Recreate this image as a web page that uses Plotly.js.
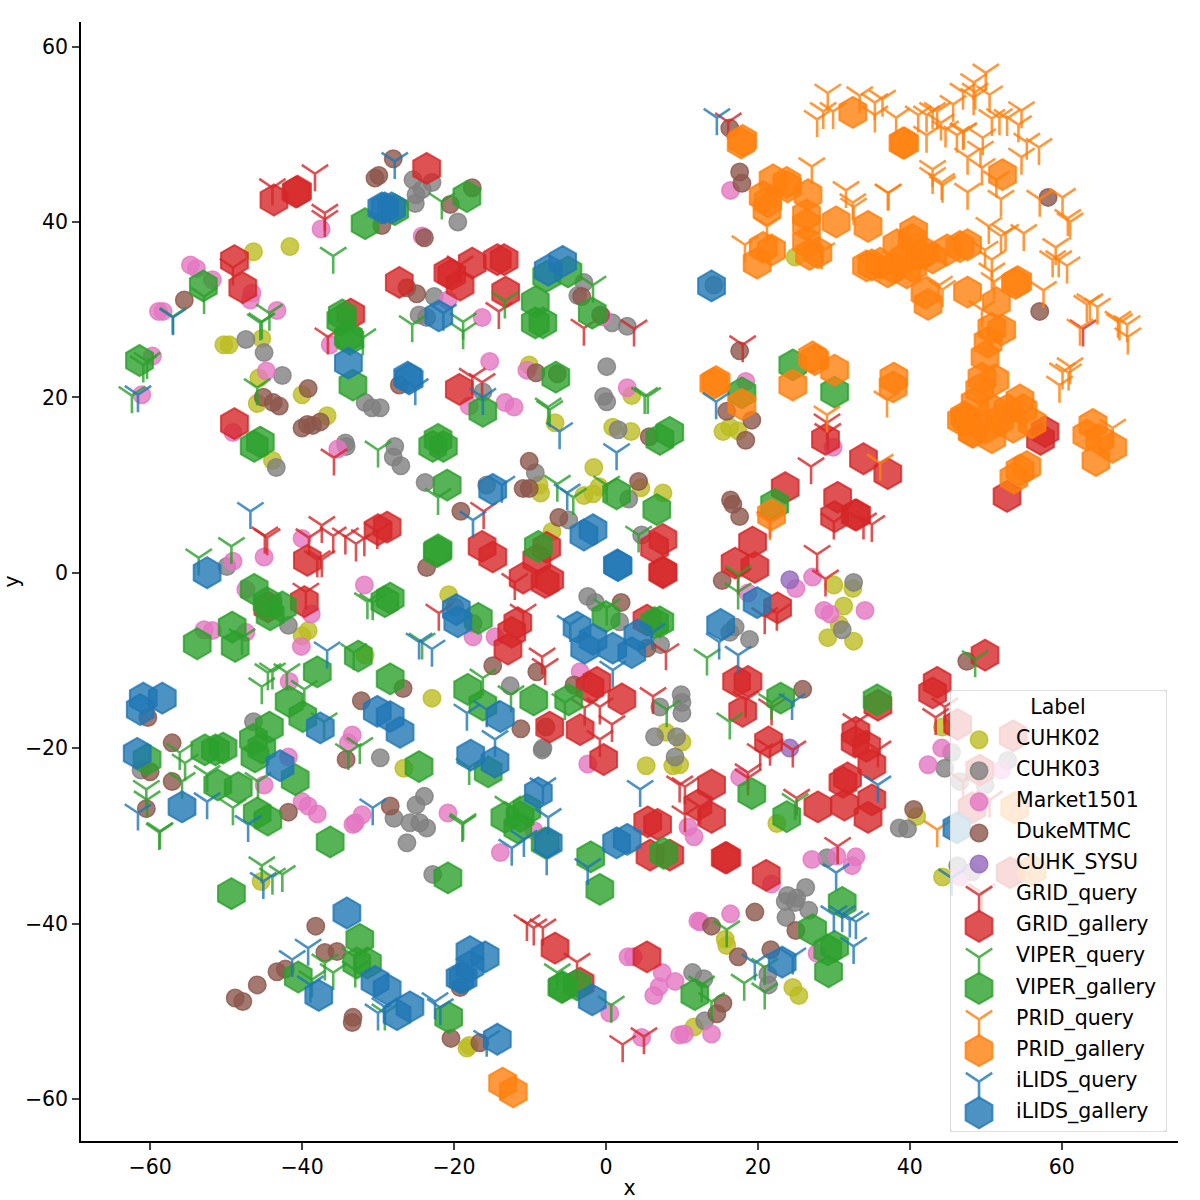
<!DOCTYPE html>
<html>
<head>
<meta charset="utf-8">
<script src="https://cdn.plot.ly/plotly-3.0.1.min.js"></script>
<style>
  html, body { margin: 0; padding: 0; background: white; }
  #chart { width: 1200px; height: 1200px; }
</style>
</head>
<body>
<div id="chart"></div>
<script>
// t-SNE embedding values, [x, y]
const cuhk02 = [[-46.4,36.6],[-41.6,37.2],[-50.3,26.0],[-49.6,26.0],[-45.3,26.7],[-45.7,22.2],[-45.9,19.3],[-40.0,20.3],[-36.7,17.9],[-10.1,23.7],[3.4,20.2],[-6.7,17.1],[0.9,16.6],[3.3,16.1],[-43.9,12.8],[-40.0,-7.2],[-39.2,-6.6],[-31.7,-9.4],[-1.6,12.0],[-8.8,10.0],[-8.6,9.1],[-2.9,8.8],[-1.7,9.0],[-0.9,9.8],[4.6,9.7],[7.5,9.1],[-20.7,-2.5],[-7.1,4.7],[-22.9,-14.3],[7.9,-18.2],[15.4,16.1],[16.3,16.6],[17.4,16.2],[30.0,-1.4],[32.5,-1.8],[31.3,-3.8],[30.7,-5.9],[29.2,-7.4],[32.6,-7.8],[24.9,36.0],[-45.4,-35.2],[-26.6,-22.3],[5.3,-22.0],[8.8,-22.0],[-18.3,-54.2],[-18.0,-53.9],[15.7,-41.8],[15.9,-42.5],[44.3,-17.6],[10.0,-19.3],[9.7,-21.9],[22.5,-28.6],[40.9,-27.8],[44.3,-34.7],[24.6,-47.3],[25.4,-48.2],[11.6,-51.8]];
const cuhk03 = [[-47.4,26.6],[-45.0,25.1],[-42.6,22.5],[-31.7,19.4],[-30.8,18.8],[-25.4,44.8],[-25.0,43.1],[-25.1,42.1],[-22.9,44.5],[-24.2,43.7],[-19.5,40.0],[-2.9,33.1],[-3.7,31.6],[0.8,28.5],[2.8,28.1],[-24.6,29.4],[-22.6,31.5],[-23.6,29.1],[-16.2,20.6],[0.1,23.5],[-0.3,20.1],[0.1,19.5],[1.6,16.3],[-29.7,18.8],[-34.3,14.8],[-43.4,12.0],[-34.2,14.4],[-49.9,0.7],[-41.8,-6.0],[-46.4,-17.0],[-61.2,-22.5],[-27.8,14.4],[-28.0,13.2],[-27.0,12.2],[-23.8,10.3],[-15.7,10.0],[-9.3,11.4],[-4.9,6.0],[3.0,8.4],[4.7,4.3],[-2.4,-2.7],[-1.4,-3.4],[1.8,-5.6],[7.2,-8.2],[-12.6,-12.9],[-17.5,-5.8],[-19.9,-3.9],[7.1,-15.3],[6.4,-18.7],[9.3,-18.7],[9.9,-13.9],[10.0,-14.8],[10.0,-16.0],[-8.3,-20.0],[-8.4,-20.2],[9.1,-21.0],[-25.0,-26.5],[-23.9,-25.5],[-27.9,-28.0],[-25.8,-28.5],[-24.5,-28.5],[-23.6,-29.1],[-26.2,-30.8],[-22.8,-34.4],[-29.7,-21.1],[32.6,-1.1],[31.1,-6.5],[17.0,-6.2],[16.3,-6.8],[18.9,-7.6],[29.1,-32.5],[38.6,-29.1],[39.7,-29.2],[26.3,-35.9],[23.9,-36.8],[23.6,-37.5],[25.1,-37.1],[24.9,-37.6],[26.7,-38.5],[23.7,-39.3],[21.3,-45.8],[21.4,-47.0],[11.4,-45.6],[12.9,-46.3],[13.0,-51.1],[52.9,-21.4],[46.6,-23.8],[49.9,-24.2],[45.5,-20.5],[44.6,-22.3],[46.3,-33.4],[48.2,-34.1],[14.2,32.8]];
const market1501 = [[-54.7,35.1],[-53.9,34.7],[-51.8,33.4],[-46.8,31.1],[-46.6,31.9],[-58.9,29.8],[-58.3,29.8],[-43.3,29.9],[-36.3,26.0],[-59.7,24.7],[-61.1,20.3],[-44.7,23.0],[-37.5,39.2],[-49.1,16.0],[-24.2,38.4],[-20.8,31.1],[-16.3,29.1],[-15.3,24.1],[-10.4,23.1],[-0.5,29.2],[2.8,21.1],[-13.3,19.4],[-12.1,18.9],[-18.0,19.0],[-35.3,14.1],[-49.1,1.3],[-40.0,3.9],[-45.0,1.8],[-31.8,-1.4],[-47.4,-1.9],[-38.8,-4.7],[-52.9,-6.5],[-51.8,-6.6],[-47.4,-6.8],[-40.1,-8.4],[-41.7,-12.4],[-33.4,-18.5],[-33.9,-19.4],[-41.8,-21.0],[-45.0,-24.2],[-40.0,-26.1],[-39.2,-26.6],[-38.0,-27.5],[-32.1,-27.6],[-33.0,-28.5],[-33.3,-28.7],[-17.5,-7.3],[-14.6,-7.3],[-3.4,-11.3],[-2.4,-21.8],[-20.8,-27.4],[-13.9,-31.9],[-9.5,-29.4],[2.9,-43.8],[3.6,-43.8],[7.4,-45.6],[9.1,-46.6],[7.0,-47.2],[6.3,-48.2],[0.5,-50.2],[4.7,-53.0],[9.7,-52.7],[29.9,14.3],[27.2,-0.5],[25.0,-1.8],[28.7,-4.3],[29.5,-4.7],[34.1,-4.3],[18.7,-2.3],[16.4,43.6],[18.4,21.8],[44.2,-20.0],[42.4,-21.9],[17.6,-23.3],[10.8,-29.0],[11.6,-30.1],[27.1,-32.7],[30.4,-32.3],[32.9,-32.4],[32.4,-33.4],[21.8,-35.5],[27.8,-43.4],[12.1,-39.7],[12.4,-39.8],[16.4,-38.9],[13.9,-52.6],[10.3,-52.6],[49.2,-26.1],[46.6,-34.7],[52.1,-22.5]];
const dukeMTMC = [[-29.9,45.3],[-30.4,45.0],[-55.5,31.1],[-39.2,21.0],[-45.1,20.0],[-43.8,19.4],[-43.0,19.0],[-40.0,16.5],[-39.3,16.9],[-38.6,16.8],[-37.6,17.2],[-28.0,47.2],[-29.5,39.6],[-17.6,43.9],[-20.5,42.0],[-23.9,38.2],[-24.9,31.8],[-26.2,32.5],[-3.2,31.5],[-0.7,29.4],[-27.2,21.4],[-9.2,22.8],[-6.4,22.7],[5.7,15.5],[-32.2,-14.6],[-60.3,-16.5],[-57.1,-19.4],[-10.1,12.7],[-10.9,9.6],[-10.1,9.6],[-19.1,7.0],[-23.6,0.6],[-6.2,6.3],[4.3,10.4],[2.0,-3.4],[-14.9,-10.6],[-9.1,-11.3],[-26.7,-13.2],[-11.2,-17.8],[-7.9,-17.6],[-4.2,-12.8],[5.4,-8.6],[-60.0,-22.7],[-57.1,-23.8],[-60.5,-26.9],[-41.8,-27.3],[-34.2,-21.3],[-38.2,-40.3],[-37.0,-43.3],[-35.4,-43.2],[-42.2,-45.2],[-43.3,-45.5],[-45.9,-47.0],[-48.8,-48.5],[-47.8,-48.9],[-33.3,-50.7],[-33.4,-51.3],[-28.4,-26.6],[-20.4,-53.1],[-16.6,-53.6],[-19.2,-47.3],[16.3,50.7],[17.6,45.7],[17.9,44.4],[17.6,25.3],[57.1,29.8],[58.2,42.8],[15.9,18.4],[19.2,17.4],[18.4,15.1],[16.4,8.3],[16.7,7.8],[17.6,6.4],[15.3,-0.9],[47.5,-10.1],[25.9,-13.3],[40.5,-27.0],[13.9,-40.3],[19.6,-38.7],[17.4,-43.8],[21.7,-43.0],[25.0,-40.8],[15.4,-49.1],[14.6,-50.3]];
const cuhkSysu = [[24.2,-0.8],[24.2,-20.0]];
const gridQuery = [[-43.9,43.9],[-38.3,45.5],[-37.0,41.0],[-37.0,40.3],[-49.1,34.8],[-36.6,26.9],[-14.1,29.8],[-2.9,27.9],[3.7,27.8],[-17.6,22.3],[-16.3,21.7],[-19.2,35.1],[-35.8,13.1],[-37.4,5.4],[-39.1,4.0],[-35.9,4.2],[-34.3,4.1],[-32.9,3.3],[-31.8,3.9],[-30.1,4.7],[-44.6,4.0],[-44.9,4.2],[-38.0,1.5],[-37.4,1.5],[-39.5,-2.2],[-16.1,7.0],[-12.0,-1.1],[-22.0,-4.6],[-10.9,-4.6],[-8.4,-9.6],[-8.0,-10.8],[7.9,-9.1],[6.2,-14.1],[-2.8,-15.4],[-0.8,-15.3],[0.8,-17.3],[-0.8,-19.0],[29.1,17.1],[29.2,16.0],[27.0,12.1],[33.9,5.8],[35.0,5.5],[30.0,5.8],[27.8,2.1],[28.9,-0.7],[21.6,6.0],[17.4,-0.5],[20.9,-5.0],[22.5,-4.6],[18.4,-14.5],[21.8,-15.4],[20.3,-20.5],[21.6,-20.0],[24.6,-20.2],[10.4,-24.4],[12.4,-26.7],[10.4,-27.6],[18.7,-23.4],[18.7,-22.8],[25.1,-25.7],[32.9,-17.1],[35.8,-20.2],[43.4,-16.5],[44.6,-15.3],[30.5,-31.2],[49.5,-36.5],[62.8,27.8],[-9.5,-40.5],[-10.4,-40.0],[-8.3,-40.5],[-3.8,-44.4],[2.2,-53.8],[5.0,-52.9],[9.7,-24.2],[47.0,-23.8],[50.5,-25.9],[16.1,51.4],[18.0,26.0]];
const gridGallery = [[-43.7,42.5],[-40.8,43.4],[-40.6,43.5],[-48.9,35.6],[-47.8,32.5],[-33.6,29.5],[-48.9,17.0],[-23.6,46.1],[-27.2,33.1],[-20.3,34.0],[-20.8,34.2],[-17.6,35.3],[-19.2,32.8],[-14.3,35.7],[-13.4,35.7],[-13.2,32.0],[-19.3,20.9],[-39.3,1.4],[-39.7,-3.3],[-44.5,-3.9],[-28.8,5.2],[-30.0,4.9],[-16.3,3.0],[-14.9,1.8],[-7.8,2.9],[-9.1,1.5],[-10.9,-0.6],[-8.0,-1.1],[-7.4,-0.8],[7.5,3.8],[6.4,2.9],[7.5,0.1],[7.5,0.0],[-11.6,-5.7],[-12.4,-6.8],[-12.9,-8.7],[-7.4,-17.6],[-3.4,-17.9],[-1.2,-12.5],[-2.1,-13.1],[2.1,-14.4],[5.4,-5.4],[-0.3,-21.3],[-6.7,-42.8],[5.4,-43.8],[-3.4,-46.8],[5.5,-28.4],[6.8,-28.7],[5.8,-32.2],[8.4,-32.2],[28.9,15.2],[33.9,13.0],[37.1,11.3],[23.6,9.7],[30.5,8.6],[30.1,6.4],[32.8,6.6],[33.0,6.6],[19.3,3.5],[17.0,1.1],[19.6,0.6],[22.6,-4.0],[35.8,-15.1],[43.6,-12.5],[43.0,-13.7],[18.0,-15.8],[17.2,-12.4],[18.7,-12.4],[21.4,-19.3],[13.9,-24.2],[12.1,-26.5],[13.9,-27.9],[15.9,-32.5],[15.7,-32.5],[21.1,-34.5],[27.9,-26.7],[31.4,-26.5],[32.9,-18.2],[32.8,-19.3],[34.3,-19.8],[35.0,-21.9],[31.8,-23.4],[31.2,-23.9],[35.0,-25.9],[34.5,-27.9],[57.8,16.1],[57.2,15.2],[52.8,8.7],[46.3,-17.3],[53.6,-18.6],[49.2,-22.5],[48.2,-26.8],[53.2,-34.2],[49.9,-9.4]];
const viperQuery = [[-35.9,36.1],[-45.3,28.6],[-45.5,28.5],[-44.3,29.6],[-52.9,31.5],[-57.0,29.2],[-60.9,23.7],[-60.4,24.1],[-62.4,20.2],[-45.9,21.1],[-32.0,26.8],[-25.5,28.3],[-18.8,28.6],[-18.8,27.5],[-21.6,42.3],[-1.7,32.8],[-13.3,31.0],[-7.6,18.9],[-7.4,18.6],[5.1,20.1],[5.5,20.1],[-53.6,1.7],[-49.3,3.0],[-30.0,14.0],[-31.4,-3.3],[-30.7,-3.4],[-47.9,-7.4],[-33.2,-9.1],[-44.5,-11.4],[-43.9,-11.3],[-45.3,-13.0],[-42.0,-11.4],[-39.7,-13.3],[-37.1,-17.0],[-22.1,8.6],[-6.4,10.1],[-4.3,8.6],[0.1,10.0],[4.3,4.3],[0.1,-4.0],[-24.2,-7.9],[-16.2,-12.0],[-12.5,-13.9],[-5.4,-14.8],[8.0,-15.6],[-60.5,-24.7],[-60.4,-25.9],[-58.8,-29.6],[-58.7,-29.5],[-56.1,-20.5],[-55.4,-21.7],[-55.8,-23.8],[-52.5,-23.0],[-49.1,-26.8],[-45.8,-23.8],[-32.4,-19.8],[-33.9,-20.5],[-45.3,-33.4],[-43.9,-34.7],[-42.6,-34.4],[-37.0,-44.5],[-35.9,-45.6],[-33.0,-43.8],[-33.0,-45.3],[-38.7,-46.4],[-18.9,-28.7],[-18.8,-28.5],[-18.0,-22.2],[-12.9,-26.5],[-29.1,-50.2],[-6.4,-45.6],[0.7,-49.3],[13.3,-9.7],[17.4,-0.2],[17.4,-2.2],[48.6,-9.9],[16.3,-17.0],[21.8,-14.8],[24.9,-26.2],[15.9,-40.7],[12.6,-47.0],[13.9,-48.9],[18.2,-46.8],[20.9,-47.8],[20.9,-45.0]];
const viperGallery = [[-31.7,39.8],[-53.0,32.7],[-34.7,29.4],[-34.9,28.8],[-33.9,26.9],[-33.7,26.6],[-33.3,21.4],[-61.4,24.2],[-45.5,14.9],[-46.3,14.4],[-18.3,42.9],[-27.8,41.4],[-7.8,33.8],[-5.0,34.3],[-9.3,30.9],[-8.3,28.5],[-9.3,28.5],[-1.8,29.6],[-6.6,22.3],[-16.2,18.4],[-22.1,15.2],[8.4,16.0],[7.1,15.2],[-46.3,-1.9],[-44.6,-3.4],[-42.6,-3.9],[-44.2,-4.8],[-49.2,-6.2],[-48.8,-8.4],[-53.8,-8.1],[-32.6,-9.5],[-38.0,-11.3],[-41.7,-14.7],[-39.9,-16.4],[-44.3,-17.6],[-46.4,-19.0],[-52.8,-20.2],[-51.4,-20.2],[-50.4,-20.0],[-46.2,-21.0],[-45.3,-20.0],[-40.9,-23.6],[-48.4,-24.5],[-51.1,-24.2],[-45.9,-27.4],[-44.5,-28.2],[-36.3,-30.7],[-60.4,-21.3],[-49.3,-36.6],[-32.4,-41.8],[-32.8,-44.5],[-31.4,-44.5],[-40.5,-46.1],[-22.2,2.4],[-22.1,2.6],[-28.4,-2.9],[-29.1,-3.3],[-16.8,-5.2],[-18.2,-13.3],[-16.2,-15.1],[-9.5,-14.5],[-4.9,-14.5],[-28.4,-12.1],[-8.9,3.0],[-20.9,10.0],[1.4,9.0],[6.7,7.2],[0.0,-5.0],[6.4,-5.7],[7.1,-5.6],[-21.4,14.4],[-22.8,14.4],[-24.6,-22.1],[-15.5,-22.7],[-20.8,-34.8],[-13.3,-27.9],[-11.3,-27.8],[-10.4,-27.0],[-11.6,-29.1],[-8.0,-30.8],[-2.0,-32.4],[-0.8,-36.1],[7.6,-32.0],[-20.7,-50.7],[-5.7,-47.2],[-3.8,-47.0],[-5.8,-47.3],[22.2,7.8],[35.7,-14.5],[23.0,-14.3],[19.2,-25.2],[23.8,-27.8],[11.7,-48.1],[31.1,-37.6],[27.2,-40.7],[30.1,-42.6],[29.2,-43.0],[29.3,-45.5],[24.6,23.7],[30.1,20.6],[17.9,20.5]];
const pridQuery = [[29.2,54.7],[33.4,54.4],[29.9,52.6],[28.6,52.6],[27.8,51.7],[35.4,53.6],[36.4,54.0],[35.4,52.2],[38.2,51.9],[41.1,52.2],[42.2,52.2],[43.0,52.6],[45.7,53.4],[42.2,49.9],[44.7,50.5],[47.0,50.2],[46.2,49.9],[47.6,47.4],[50.0,57.0],[48.4,55.9],[47.0,54.8],[48.6,54.8],[50.5,54.5],[48.4,54.2],[54.7,52.7],[50.8,51.8],[51.8,51.9],[52.8,51.8],[54.3,51.1],[55.4,49.1],[57.0,48.5],[54.7,47.4],[49.6,49.6],[47.1,50.3],[43.6,52.6],[44.1,51.3],[49.3,48.2],[49.5,46.2],[43.0,45.2],[44.2,44.5],[47.6,43.4],[51.4,44.8],[52.0,42.6],[57.1,42.6],[60.1,42.8],[61.1,40.0],[60.8,40.4],[50.4,39.5],[52.0,38.4],[52.6,38.7],[55.0,38.7],[49.9,36.8],[50.8,35.7],[50.8,34.3],[51.1,33.2],[59.2,37.1],[58.8,35.7],[59.6,35.7],[60.7,35.0],[57.6,32.2],[44.3,32.3],[63.3,30.6],[63.7,30.8],[64.7,30.3],[62.4,27.9],[67.4,28.8],[67.6,28.5],[68.6,28.3],[68.7,26.9],[61.1,23.5],[60.1,22.9],[60.9,22.8],[59.7,21.4],[37.0,19.7],[66.7,16.5],[49.5,30.0],[43.9,32.8],[36.1,12.5],[29.1,18.0],[21.6,5.7],[27.1,46.3],[31.6,43.6],[32.5,42.2],[32.6,41.7],[37.1,43.3],[37.2,43.3],[43.0,46.0],[44.3,44.2],[21.2,39.5],[28.4,36.6],[43.6,-29.3],[18.3,37.4]];
const pridGallery = [[18.0,49.3],[17.8,49.0],[32.5,52.5],[39.3,49.0],[39.1,49.0],[22.0,44.8],[23.9,44.0],[20.7,42.9],[21.3,42.3],[21.2,41.4],[23.8,44.5],[26.6,43.1],[26.4,40.8],[26.4,39.7],[30.3,40.0],[34.5,39.5],[20.7,37.1],[21.8,36.8],[19.9,35.3],[26.4,37.7],[26.8,36.3],[27.9,36.5],[34.3,35.0],[35.0,35.1],[38.3,37.4],[40.5,38.9],[40.3,38.0],[37.8,34.8],[39.6,34.2],[40.4,34.9],[43.0,35.9],[44.9,36.8],[46.6,37.2],[47.6,37.4],[42.0,31.9],[42.4,30.6],[47.6,32.0],[27.2,24.6],[52.2,45.4],[54.2,33.2],[53.9,33.0],[51.4,30.8],[52.1,27.7],[50.8,27.9],[50.3,26.3],[49.9,24.6],[49.5,22.2],[51.2,22.0],[49.2,20.9],[48.6,19.4],[47.2,17.8],[46.8,17.4],[48.2,16.1],[50.8,15.4],[50.9,18.6],[52.9,18.6],[53.6,16.6],[54.5,19.7],[54.9,18.6],[56.1,17.1],[64.1,16.9],[63.3,15.7],[65.0,15.2],[66.7,14.3],[64.5,12.8],[55.4,12.1],[54.5,11.7],[53.7,10.8],[37.9,22.2],[37.8,21.2],[37.1,34.3],[42.0,36.5],[47.5,17.4],[48.3,16.0],[17.9,19.2],[14.2,21.6],[14.5,21.8],[24.6,21.4],[27.5,24.3],[30.1,23.1],[21.8,6.6],[-13.6,-58.2],[-12.2,-59.2],[53.8,-26.8],[56.1,-33.9],[36.1,35.3],[39.3,35.9],[41.3,36.3],[50.0,16.5],[51.8,17.4]];
const ilidsQuery = [[-57.0,29.1],[-61.6,20.3],[-27.8,46.9],[-25.1,21.1],[-21.4,29.6],[-16.2,20.0],[-6.1,16.1],[-46.8,7.0],[-36.7,-8.9],[-13.7,10.0],[-5.1,9.1],[1.4,13.7],[-17.5,6.0],[-24.6,-7.9],[-22.9,-8.7],[-18.3,-16.0],[-15.7,-15.6],[-14.6,-19.0],[0.9,-11.1],[6.1,-6.8],[-4.7,-5.9],[14.5,19.5],[14.9,-7.9],[17.4,-9.4],[-61.6,-27.4],[-52.5,-26.1],[-47.1,-28.7],[-45.1,-35.2],[-41.3,-44.1],[-39.2,-42.8],[-38.9,-47.0],[-30.0,-50.2],[-30.7,-26.8],[-22.5,-48.9],[-21.8,-49.6],[-15.7,-53.2],[-29.1,-49.5],[-7.6,-27.9],[-10.8,-30.4],[-12.4,-31.4],[-7.8,-32.5],[-2.4,-33.6],[4.5,-24.7],[-8.3,-24.4],[35.8,-24.2],[30.3,-34.2],[19.6,-44.5],[24.5,-14.8],[30.0,-39.0],[31.1,-39.0],[32.1,-39.6],[32.9,-39.8],[32.6,-42.6],[24.6,-43.8],[14.6,51.9],[45.5,-34.8]];
const ilidsGallery = [[-29.5,41.6],[-29.1,41.6],[-28.2,41.6],[-33.9,23.9],[-22.0,29.3],[-26.1,22.3],[-25.9,22.1],[-7.6,34.5],[-5.7,35.5],[-52.5,0.0],[-60.9,-14.3],[-58.4,-14.3],[-61.3,-15.6],[-37.6,-17.7],[-30.1,-15.8],[-14.9,9.5],[-19.7,-4.2],[-19.5,-5.6],[-2.9,4.3],[-1.7,4.9],[1.6,0.8],[1.5,0.9],[-3.8,-6.2],[-2.8,-8.6],[0.9,-8.6],[3.4,-9.1],[4.2,-7.1],[-1.7,-7.6],[-28.4,-16.4],[-27.1,-18.2],[-13.9,-16.4],[-61.7,-20.6],[-55.8,-26.7],[-42.9,-22.0],[-34.1,-38.8],[-37.8,-48.2],[-30.4,-46.6],[-28.8,-47.5],[-27.5,-50.4],[-25.8,-49.5],[-17.8,-20.8],[-14.6,-21.6],[-8.9,-25.1],[-7.6,-30.8],[1.4,-30.8],[2.8,-30.4],[-1.8,-48.7],[-17.9,-43.2],[-15.9,-43.8],[-19.2,-46.2],[-18.8,-46.2],[-17.9,-44.9],[-14.3,-53.2],[23.2,-44.4],[19.9,-3.4],[15.1,-5.9],[13.9,32.7],[46.2,-29.1]];

const labels = ['CUHK02', 'CUHK03', 'Market1501', 'DukeMTMC', 'CUHK_SYSU', 'GRID_query', 'GRID_gallery', 'VIPER_query', 'VIPER_gallery', 'PRID_query', 'PRID_gallery', 'iLIDS_query', 'iLIDS_gallery'];
const series = [cuhk02, cuhk03, market1501, dukeMTMC, cuhkSysu, gridQuery, gridGallery, viperQuery, viperGallery, pridQuery, pridGallery, ilidsQuery, ilidsGallery];
const colors = ['188,189,34', '127,127,127', '227,119,194', '140,86,75', '148,103,189', '214,39,40', '214,39,40', '44,160,44', '44,160,44', '255,127,14', '255,127,14', '31,119,180', '31,119,180'];
const kinds = ['o', 'o', 'o', 'o', 'o', 'q', 'g', 'q', 'g', 'q', 'g', 'q', 'g'];

function markerFor(i) {
    // fill and edge both carry the alpha, so the edge reads darker where they overlap
    let col = 'rgba(' + colors[i] + ',0.8)';
    if (kinds[i] === 'o') return {symbol: 'circle', size: 17.5, color: col, line: {color: col, width: 1.5}};
    if (kinds[i] === 'g') return {symbol: 'hexagon', size: 31, color: col, line: {color: col, width: 2}};
    return {symbol: 'y-down', size: 22, color: col, line: {color: col, width: 2.6}};
}

let data = [];
for (let i = 0; i < series.length; i++) {
    data.push({
        x: series[i].map(p => p[0]),
        y: series[i].map(p => p[1]),
        mode: 'markers',
        type: 'scatter',
        name: labels[i],
        marker: markerFor(i),
        showlegend: false
    });
}

// legend drawn as its own little subplot so the keys can be full marker size
for (let i = 0; i < labels.length; i++) {
    data.push({
        x: [29],
        y: [i + 1],
        xaxis: 'x2',
        yaxis: 'y2',
        mode: 'markers',
        type: 'scatter',
        marker: markerFor(i),
        showlegend: false,
        hoverinfo: 'skip'
    });
}
data.push({
    x: labels.map(() => 66).concat([108]),
    y: labels.map((l, i) => i + 1).concat([0]),
    text: labels.concat(['Label']),
    xaxis: 'x2',
    yaxis: 'y2',
    mode: 'text',
    type: 'scatter',
    textposition: labels.map(() => 'middle right').concat(['middle center']),
    textfont: {family: 'DejaVu Sans', size: 20.5, color: 'black'},
    cliponaxis: false,
    showlegend: false,
    hoverinfo: 'skip'
});

const font = {family: 'DejaVu Sans', size: 20.5, color: 'black'};

let layout = {
    width: 1200,
    height: 1200,
    margin: {l: 81, r: 22, t: 22, b: 59},
    paper_bgcolor: 'white',
    plot_bgcolor: 'rgba(0,0,0,0)',
    font: font,
    showlegend: false,
    xaxis: {
        domain: [0, 1],
        range: [-69.1, 75.3],
        tickvals: [-60, -40, -20, 0, 20, 40, 60],
        ticks: 'outside',
        ticklen: 7,
        tickwidth: 1.5,
        showgrid: false,
        zeroline: false,
        showline: true,
        linecolor: 'black',
        linewidth: 1.5,
        tickfont: font,
        title: {text: 'x', font: font, standoff: 10}
    },
    yaxis: {
        domain: [0, 1],
        range: [-64.8, 62.8],
        tickvals: [-60, -40, -20, 0, 20, 40, 60],
        ticks: 'outside',
        ticklen: 7,
        tickwidth: 1.5,
        showgrid: false,
        zeroline: false,
        showline: true,
        linecolor: 'black',
        linewidth: 1.5,
        tickfont: font,
        title: {text: 'y', font: font, standoff: 13}
    },
    xaxis2: {domain: [0.7922, 0.99], range: [0, 217], anchor: 'y2', visible: false, fixedrange: true},
    yaxis2: {domain: [0.008, 0.403], range: [13.62, -0.597], anchor: 'x2', visible: false, fixedrange: true},
    shapes: [{
        type: 'path',
        xref: 'x2',
        yref: 'y2',
        layer: 'below',
        path: 'M 4,-0.597 L 213,-0.597 Q 217,-0.597 217,-0.47 L 217,13.49 Q 217,13.62 213,13.62 L 4,13.62 Q 0,13.62 0,13.49 L 0,-0.47 Q 0,-0.597 4,-0.597 Z',
        fillcolor: 'rgba(255,255,255,0.8)',
        line: {color: 'rgba(204,204,204,0.8)', width: 1.5}
    }]
};

Plotly.newPlot('chart', data, layout, {displayModeBar: false});
</script>
</body>
</html>
